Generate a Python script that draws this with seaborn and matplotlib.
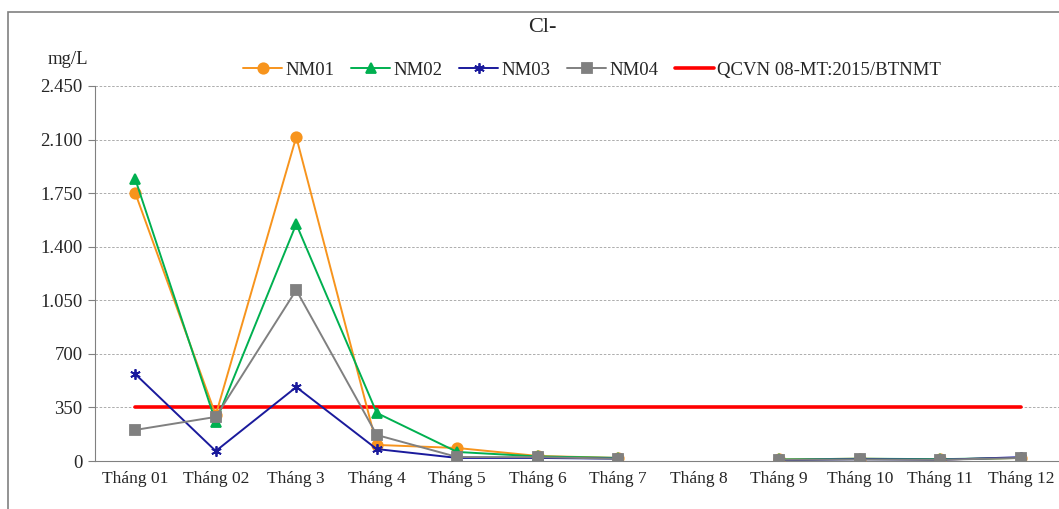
import numpy as np
import pandas as pd
import matplotlib
matplotlib.use("Agg")
import matplotlib.pyplot as plt
from matplotlib.lines import Line2D
from matplotlib.patches import Rectangle
from matplotlib.ticker import FuncFormatter, FixedLocator
import seaborn as sns

# data ==========================================================================
months = ['Tháng 01', 'Tháng 02', 'Tháng 3', 'Tháng 4', 'Tháng 5', 'Tháng 6',
          'Tháng 7', 'Tháng 8', 'Tháng 9', 'Tháng 10', 'Tháng 11', 'Tháng 12']
nm01 = [1751, 300, 2117, 105, 85, 33, 20, np.nan, 10, 15, 10, 20]
nm02 = [1842, 255, 1548, 314, 59, 30, 20, np.nan, 10, 15, 12, 20]
nm03 = [568, 65, 483, 78, 20, 20, 15, np.nan, 5, 12, 8, 25]
nm04 = [203, 288, 1117, 170, 26, 25, 15, np.nan, 8, 10, 8, 20]
qcvn = 350
stations = ['NM01', 'NM02', 'NM03', 'NM04']
qcvn_label = 'QCVN 08-MT:2015/BTNMT'

colors = {'NM01': '#F7941D', 'NM02': '#00B050', 'NM03': '#1A1A9C', 'NM04': '#808080'}
markers = {'NM01': 'o', 'NM02': '^', 'NM03': (6, 2, 0), 'NM04': 's'}

# long form, break line at missing month ======================================
rows = []
for name, vals in zip(stations, [nm01, nm02, nm03, nm04]):
    seg = 0
    for i, v in enumerate(vals):
        if np.isnan(v):
            seg += 1
            continue
        rows.append({'idx': i, 'val': v, 'station': name, 'seg': seg})
df = pd.DataFrame(rows)

# figure ========================================================================
sns.set_style('white')
plt.rcParams['font.family'] = ['Liberation Serif', 'DejaVu Serif']

fig = plt.figure(figsize=(10.59, 5.09), dpi=100)
ax = fig.add_axes([95 / 1059, 1 - 461 / 509, 966 / 1059, 375 / 509])

ax.plot([0, 11], [qcvn, qcvn], color='#FF0000', lw=2.6, zorder=2)

for s in stations:
    sub = df[df['station'] == s]
    sns.lineplot(data=sub, x='idx', y='val', units='seg', estimator=None,
                 color=colors[s], marker=markers[s], markersize=7.5,
                 markeredgecolor=colors[s], linewidth=1.4, markeredgewidth=1.3,
                 legend=False, sort=True, ax=ax, zorder=3)

ax.set_xlim(-0.5, 11.5)
ax.set_ylim(0, 2450)
ax.set_yticks(np.arange(0, 2451, 350))
ax.yaxis.set_major_formatter(FuncFormatter(lambda v, p: f"{v:,.0f}".replace(',', '.')))
ax.yaxis.grid(True, color='#A0A0A0', linestyle=(0, (3, 2)), linewidth=0.6)
ax.set_axisbelow(True)

ax.set_xticks(range(12))
ax.set_xticklabels(months)
ax.xaxis.set_minor_locator(FixedLocator(np.arange(-0.5, 12, 1)))
ax.tick_params(axis='x', which='major', length=0, pad=7, labelsize=12.5)
ax.tick_params(axis='x', which='minor', length=5, color='#808080', width=0.8)
ax.tick_params(axis='y', which='major', length=5, color='#808080', width=0.8,
               labelsize=13.5, pad=4, left=True)
ax.set_xlabel('')
ax.set_ylabel('')

sns.despine(ax=ax, top=True, right=True)
for sp in ['left', 'bottom']:
    ax.spines[sp].set_color('#808080')
    ax.spines[sp].set_linewidth(0.8)

# title, unit, legend ===========================================================
fig.text(542 / 1059, 1 - 28 / 509, 'Cl-', ha='center', va='center', fontsize=16)
fig.text(68 / 1059, 1 - 60 / 509, 'mg/L', ha='center', va='center', fontsize=13.5)

handles = [Line2D([], [], color=colors[s], marker=markers[s], markersize=7.5,
                  markeredgecolor=colors[s], lw=1.4, markeredgewidth=1.3) for s in stations]
handles.append(Line2D([], [], color='#FF0000', lw=2.6))
fig.legend(handles, stations + [qcvn_label], loc='center',
           bbox_to_anchor=(592 / 1059, 1 - 70 / 509), ncol=5, frameon=False,
           fontsize=13.5, handlelength=2.1, columnspacing=0.9, handletextpad=0.15)

# outer frame
fig.patches.append(Rectangle((8 / 1059, -0.05), 1.1, 1 - 12 / 509 + 0.05,
                             transform=fig.transFigure, fill=False,
                             edgecolor='#808080', lw=1.2))

fig.savefig('out.png', dpi=100)
